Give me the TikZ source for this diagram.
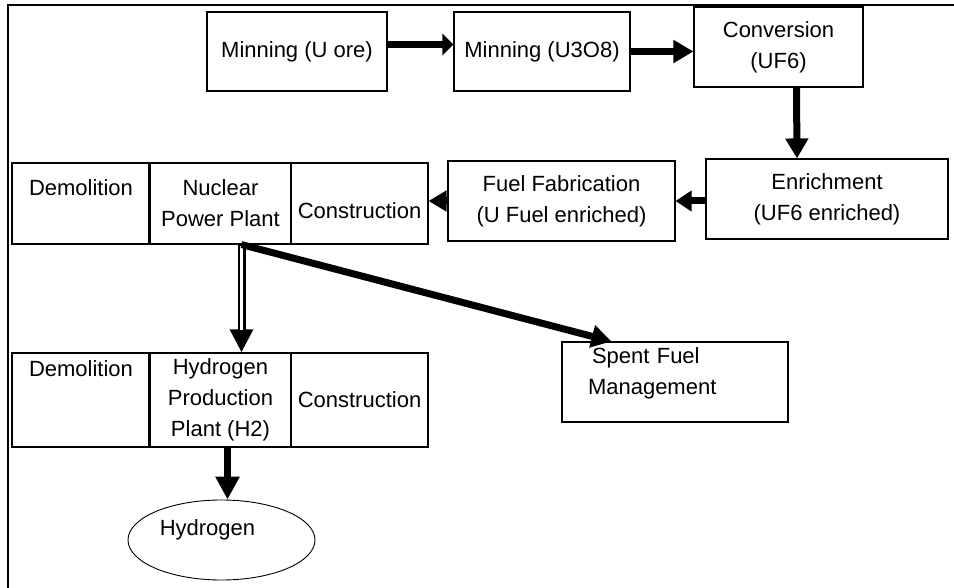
\documentclass[tikz,border=0pt]{standalone}
\usepackage{fontspec}
\setmainfont{Liberation Sans}
\usetikzlibrary{arrows.meta,shapes.geometric}

\begin{document}
\begin{tikzpicture}[x=1pt, y=-1pt, every node/.style={draw, line width=1.1pt, inner xsep=2pt, align=center, font=\fontsize{22}{31}\selectfont},
    flow/.style={line width=7pt, -{Triangle[length=20pt,width=22pt]}}]
            \useasboundingbox (0,0) rectangle (954,588);
            % Moldura
            \draw[line width=2pt] (8,588) -- (8,5) -- (954,5);

            % Caixas
            \node[minimum width=180pt, minimum height=79pt] (ore) at (297,51.5) {Minning (U ore)};
            \node[minimum width=176pt, minimum height=79pt] (u3o8) at (542,51.5) {Minning (U3O8)};
            \node[minimum width=169pt, minimum height=80pt] (conv) at (778.5,47) {Conversion\\(UF6)};
            \node[minimum width=242pt, minimum height=80pt] (enrich) at (827,199) {Enrichment\\(UF6 enriched)};
            \node[minimum width=227pt, minimum height=80pt] (fab) at (561.5,201) {Fuel Fabrication\\(U Fuel enriched)};

            \node[minimum width=138pt, minimum height=81pt] (demol1) at (81,203.5) {Demolition\\~};
            \node[minimum width=141pt, minimum height=81pt] (npp) at (220.5,203.5) {Nuclear\\Power Plant};
            \node[minimum width=137pt, minimum height=81pt] (constr1) at (359.5,203.5) {~\\Construction};

            \node[minimum width=138pt, minimum height=94pt] (demol2) at (81,400) {Demolition\\~\\~};
            \node[minimum width=141pt, minimum height=94pt] (h2plant) at (220.5,400) {Hydrogen\\Production\\Plant (H2)};
            \node[minimum width=137pt, minimum height=94pt] (constr2) at (359.5,400) {Construction};

            \node[text width=174pt, inner xsep=26pt, minimum height=80pt, align=left, text depth=53pt] (spent) at (675,382) {\hspace*{4pt}Spent Fuel\\Management};
            \node[ellipse, line width=0.9pt, minimum width=187pt, minimum height=80pt, text depth=24pt] (hyd) at (221.5,540) {Hydrogen\hspace*{28pt}};

            \draw[line width=2.2pt] (npp.north west) -- (npp.south west);
            \draw[line width=2.2pt] (h2plant.north west) -- (h2plant.south west);
            \coordinate (tap) at ([xshift=21pt]npp.south);

            % Setas
            \draw[flow, -{Triangle[length=11pt,width=21pt]}] ([yshift=7pt]ore.east) -- ([yshift=7pt]u3o8.west);
            \draw[flow] (u3o8.east) -- (u3o8.east -| conv.west);
            \draw[flow] ([xshift=18pt]conv.south) -- ([xshift=-30pt]enrich.north);
            \draw[flow, -{Triangle[length=16pt,width=20pt]}] (enrich.west |- fab) -- (fab.east);
            \draw[flow, -{Triangle[length=18pt,width=20pt]}] (fab.west) -- (fab.west -| constr1.east);
            \draw[flow, line width=8pt, -{Triangle[length=23pt,width=22pt]}] (tap) -- (tap |- h2plant.north);
            \draw[white, line width=3pt, shorten <=1.5pt, shorten >=22pt] (tap) -- (tap |- h2plant.north);
            \draw[flow] (tap) -- ([xshift=50pt]spent.north west);
            \draw[flow, -{Triangle[length=23pt,width=23pt]}] ([xshift=7pt]h2plant.south) -- ([xshift=6pt]hyd.north);
        \end{tikzpicture}
\end{document}
